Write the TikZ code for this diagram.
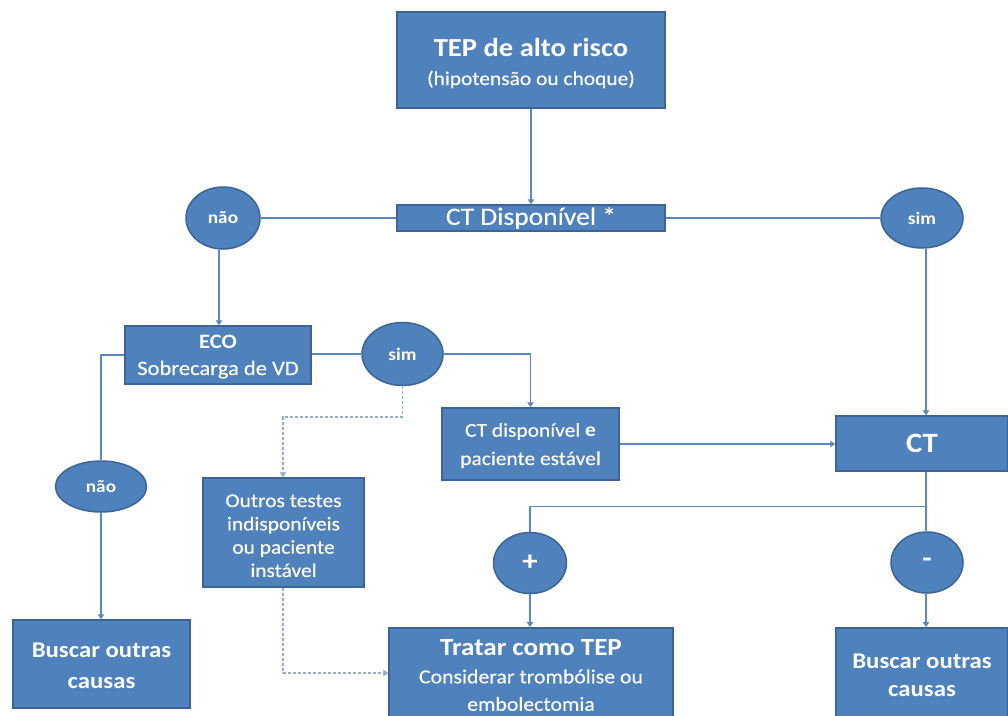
\documentclass[tikz,border=0pt]{standalone}
\usepackage{fontspec}
\setmainfont{Carlito}[FakeStretch=1.1, UprightFeatures={FakeBold=0.3}]
\usetikzlibrary{arrows.meta,shapes.geometric}
\definecolor{boxfill}{HTML}{4F81BD}
\definecolor{boxline}{HTML}{3A6596}
\definecolor{conn}{HTML}{5A88C0}
\definecolor{dashc}{HTML}{98ACC6}
\newcommand{\fsz}[2]{\fontsize{#1}{#2}\selectfont}
\newcommand{\topst}[1]{\rule{0pt}{#1pt}}
\newcommand{\botst}[1]{\rule[-#1pt]{0pt}{#1pt}}
\tikzset{
  box/.style={draw=boxline, line width=1.5pt, fill=boxfill, text=white, align=center, inner sep=0pt},
  oval/.style={ellipse, draw=boxline, line width=1.5pt, fill=boxfill, text=white, inner sep=0pt, font=\bfseries\fsz{17.5}{20}},
  conline/.style={draw=conn, line width=1.3pt},
  arr/.style={conline, -{Triangle[width=6.5pt,length=5pt]}},
  dashline/.style={draw=dashc, line width=1.2pt, dash pattern=on 3pt off 2pt},
  dasharr/.style={dashline, -{Triangle[width=6.5pt,length=5pt]}}
}
\begin{document}
\begin{tikzpicture}[x=1pt,y=-1pt]
\useasboundingbox (0,0) rectangle (1008,715);
\fill[white] (0,0) rectangle (1008,715);

% nodes
\node[box, minimum width=268pt, minimum height=96pt, font=\fsz{19.5}{29}] (tep) at (531,60)
  {\topst{30}{\bfseries\fsz{26}{29}TEP de alto risco}\\(hipotensão ou choque)\botst{9}};
\node[box, minimum width=268pt, minimum height=26pt, font=\fsz{25}{28}] (ctd) at (531,218) {CT Disponível *};
\node[oval, minimum width=74pt, minimum height=62pt] (nao1) at (223,218) {não};
\node[oval, minimum width=82pt, minimum height=60pt] (sim1) at (922,218) {sim};
\node[box, minimum width=186pt, minimum height=54pt, font=\fsz{20.5}{27}] (eco) at (218,355)
  {\topst{22}{\bfseries ECO}\\Sobrecarga de VD\botst{9}};
\node[oval, minimum width=81pt, minimum height=63pt] (sim2) at (402.5,354) {sim};
\node[box, minimum width=177pt, minimum height=72pt, font=\fsz{19.5}{28.3}] (cte) at (530.5,444)
  {\topst{22}CT disponível {\bfseries e}\\paciente estável\botst{8.3}};
\node[box, minimum width=172pt, minimum height=55pt, font=\bfseries\fsz{28}{30}] (ct) at (922,443.5) {CT};
\node[oval, minimum width=91pt, minimum height=51pt] (nao2) at (101,486.5) {não};
\node[box, minimum width=161pt, minimum height=109pt, font=\fsz{19.5}{23.3}] (out) at (283.5,532.5)
  {\topst{25}Outros testes\\indisponíveis\\ou paciente\\instável\botst{6}};
\node[box, minimum width=177pt, minimum height=88pt, font=\bfseries\fsz{22.5}{31}] (bus1) at (101.5,664)
  {\topst{25}Buscar outras\\causas\botst{8}};
\node[oval, minimum width=73pt, minimum height=61pt, font=\bfseries\fsz{28}{30}] (plus) at (530,563) {+};
\node[oval, minimum width=72pt, minimum height=61pt, font=\bfseries\fsz{28}{30}] (minus) at (927,562.5) {-};
\node[box, minimum width=284pt, minimum height=99pt, font=\fsz{19.8}{27.5}, anchor=north] (trat) at (531,627)
  {\topst{20}{\bfseries\fsz{24.6}{27.5}Tratar como TEP}\\Considerar trombólise ou\\embolectomia\botst{8}};
\node[box, minimum width=172pt, minimum height=98pt, font=\bfseries\fsz{22.5}{28}, anchor=north] (bus2) at (922,627)
  {\topst{20}Buscar outras\\causas\botst{8}};

% coordinates
\coordinate (d1) at (402.5,417);
\coordinate (d2) at (283,417);
\coordinate (d3) at (283,673);
\coordinate (j) at (926,506.5);
\coordinate (k) at (219,218);

% connectors
\draw[arr] (tep.south -| ctd.north) -- (ctd.north);
\draw[conline] (ctd.west) -- (nao1.east);
\draw[conline] (ctd.east) -- (sim1.west);
\draw[arr] (nao1.south -| k) -- (eco.north -| k);
\draw[arr] (sim1.south -| j) -- (ct.north -| j);
\draw[conline] (eco.east |- sim2.west) -- (sim2.west);
\draw[arr] (sim2.east) -| (cte.north);
\draw[arr] (cte.east) -- (cte.east -| ct.west);
\draw[conline] (eco.west) -| (nao2.north);
\draw[arr] (nao2.south) -- (nao2.south |- bus1.north);
\draw[dasharr] (sim2.south) -- (d1) -- (d2) -- (d2 |- out.north);
\draw[dasharr] (out.south -| d3) -- (d3) -- (d3 -| trat.west);
\draw[conline] (ct.south -| j) -- (minus.north -| j);
\draw[conline] (j) -| (plus.north);
\draw[arr] (plus.south) -- (trat.north -| plus.south);
\draw[arr] (minus.south -| j) -- (bus2.north -| j);
\end{tikzpicture}
\end{document}
